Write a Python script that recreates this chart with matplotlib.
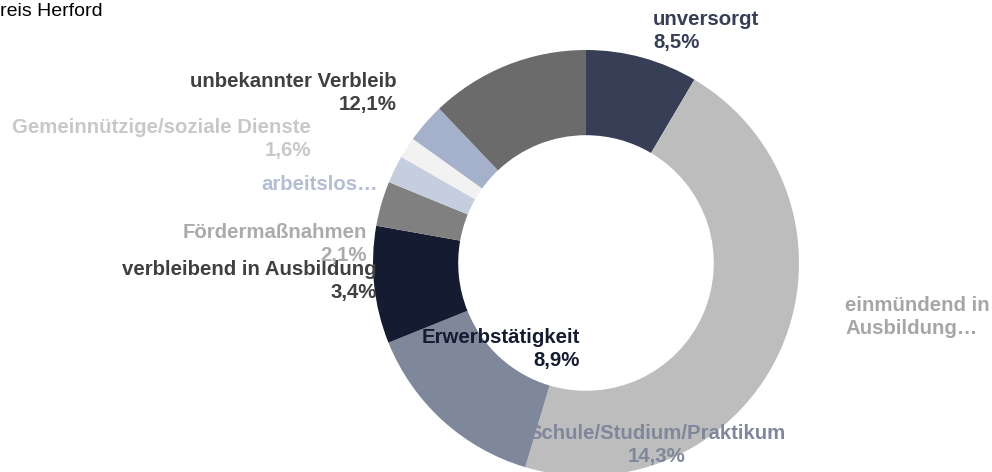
import matplotlib.pyplot as plt

plt.rcParams['font.family'] = ['Liberation Sans', 'DejaVu Sans']

# Daten
labels = ['unversorgt', 'einmündend in\nAusbildung…', 'Schule/Studium/Praktikum',
          'Erwerbstätigkeit', 'verbleibend in Ausbildung', 'Fördermaßnahmen',
          'Gemeinnützige/soziale Dienste', 'arbeitslos…', 'unbekannter Verbleib']
values = [8.5, 46.1, 14.3, 8.9, 3.4, 2.1, 1.6, 3.0, 12.1]
show_pct = [True, False, True, True, True, True, True, False, True]
slice_colors = ['#363F56', '#BDBDBD', '#7F879A', '#151B31', '#808080',
                '#C5CEDF', '#F2F2F2', '#A5B0CB', '#6B6B6B']
text_colors = ['#363F56', '#A6A6A6', '#7F879A', '#151B31', '#404040',
               '#ABABAB', '#C8C8C8', '#B4BED3', '#404040']

# Label-Positionen in Pixeln (x, y von oben, Ausrichtung)
label_pos = [(653, 31, 'left'), (845, 317, 'left'), (657, 445, 'center'),
             (580, 349, 'right'), (377, 281, 'right'), (367, 244, 'right'),
             (311, 139, 'right'), (378, 185, 'right'), (397, 93, 'right')]

W, H = 992, 472
fig = plt.figure(figsize=(W / 100, H / 100), dpi=100)

# Donut
cx, cy, r = 586, 263, 213
ax = fig.add_axes([(cx - r) / W, (H - cy - r) / H, 2 * r / W, 2 * r / H])
ax.pie(values, colors=slice_colors, startangle=90, counterclock=False,
       radius=1, wedgeprops=dict(width=0.4, linewidth=0))
ax.set_xlim(-1, 1)
ax.set_ylim(-1, 1)
ax.set_aspect('equal')
ax.axis('off')

# Beschriftungen
for lab, v, sp, tc, (x, y, ha) in zip(labels, values, show_pct, text_colors, label_pos):
    txt = lab
    if sp:
        txt += '\n' + f'{v:.1f}'.replace('.', ',') + '%'
    fig.text(x / W, 1 - y / H, txt, ha=ha, va='center', multialignment=ha,
             fontsize=14.7, fontweight='bold', color=tc, linespacing=1.3)

# Titel (links abgeschnitten)
fig.text(103 / W, 1 - 11 / H, 'Kreis Herford', ha='right', va='center',
         fontsize=14, color='black')

fig.savefig('out.png', dpi=100)
